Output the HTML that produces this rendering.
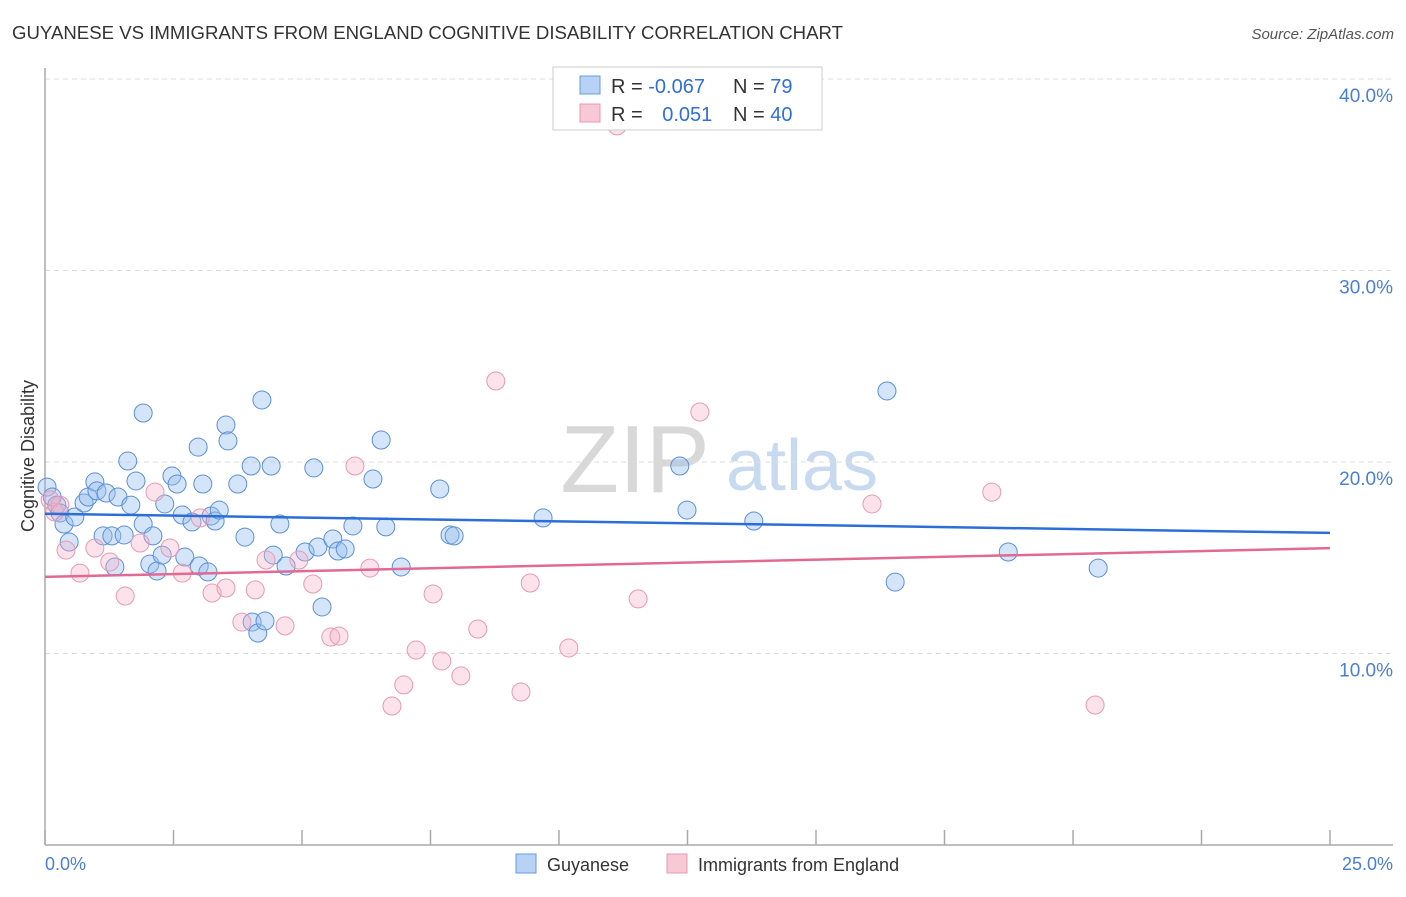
<!DOCTYPE html>
<html><head><meta charset="utf-8"><style>
body{margin:0;background:#fff;font-family:"Liberation Sans",sans-serif}
svg text{font-family:"Liberation Sans",sans-serif}
</style></head><body>
<svg id="chart" width="1406" height="892" xmlns="http://www.w3.org/2000/svg">
<text x="12" y="39" font-size="18" fill="#333" textLength="831" lengthAdjust="spacingAndGlyphs">GUYANESE VS IMMIGRANTS FROM ENGLAND COGNITIVE DISABILITY CORRELATION CHART</text>
<text x="1394" y="39" font-size="15" fill="#555" font-style="italic" text-anchor="end">Source: ZipAtlas.com</text>
<g>
<text x="635" y="492" font-size="96" fill="#d8d8d8" font-family="Liberation Serif" text-anchor="middle">ZIP</text>
<text x="802" y="490" font-size="72" fill="#c8daf0" text-anchor="middle">atlas</text>
</g>
<g id="grid"></g>
<g id="axes"></g>
<g id="pts"></g>
<g id="trends"></g>
<text x="34" y="456" font-size="18" fill="#333" text-anchor="middle" transform="rotate(-90 34 456)">Cognitive Disability</text>
<text x="45" y="870" font-size="18" fill="#4a7fd6">0.0%</text>
<text x="1393" y="870" font-size="18" fill="#4a7fd6" text-anchor="end">25.0%</text>
<g>
<rect x="553" y="67" width="269" height="63" fill="#fff" stroke="#ccc"/>
<rect x="580" y="76" width="20" height="18" fill="#b8d2f5" stroke="#6a9ae0"/>
<rect x="580" y="104" width="20" height="18" fill="#f9c8d6" stroke="#e899b3"/>
<text x="611" y="93" font-size="20" fill="#333">R = <tspan fill="#2f6fd6">-0.067</tspan></text>
<text x="733" y="93" font-size="20" fill="#333">N = <tspan fill="#2f6fd6">79</tspan></text>
<text x="611" y="121" font-size="20" fill="#333">R = <tspan fill="#2f6fd6" dx="14">0.051</tspan></text>
<text x="733" y="121" font-size="20" fill="#333">N = <tspan fill="#2f6fd6">40</tspan></text>
</g>
<g>
<rect x="516" y="854" width="20" height="19" fill="#b8d2f5" stroke="#6a9ae0"/>
<text x="547" y="871" font-size="18" fill="#333">Guyanese</text>
<rect x="667" y="854" width="20" height="19" fill="#f9c8d6" stroke="#e899b3"/>
<text x="698" y="871" font-size="18" fill="#333">Immigrants from England</text>
</g>
</svg>
<script>
const yTicks=[10,20,30,40];
const yTickLabels=["10.0%","20.0%","30.0%","40.0%"];
const xTicks=[0,2.5,5,7.5,10,12.5,15,17.5,20,22.5,25];
const blueX=[0.04,0.14,0.23,0.29,0.37,0.47,0.58,0.76,0.84,0.97,1.01,1.19,1.36,1.42,1.13,1.30,1.54,1.61,1.67,1.77,1.91,1.91,2.04,2.10,2.18,2.28,2.33,2.47,2.57,2.67,2.72,2.86,2.98,3.00,3.07,3.17,3.23,3.31,3.39,3.52,3.56,3.75,3.89,4.01,4.03,4.14,4.22,4.28,4.40,4.44,4.57,4.69,5.06,5.23,5.31,5.39,5.60,5.70,5.84,5.99,6.38,6.54,6.63,6.93,7.68,7.88,7.96,9.69,12.35,12.49,13.79,16.38,16.54,18.74,20.49];
const blueY=[18.69,18.17,17.75,17.34,16.76,15.82,17.13,17.86,18.17,18.96,18.49,18.38,14.52,18.17,16.14,16.14,16.19,20.05,17.75,19.01,22.56,16.76,14.67,16.14,14.31,15.14,17.81,19.27,18.85,17.23,15.04,16.87,20.78,14.57,18.85,14.26,17.18,16.92,17.49,21.93,21.10,18.85,16.08,19.79,11.64,11.07,23.24,11.70,19.79,15.14,16.76,14.57,15.30,19.69,15.56,12.43,15.98,15.35,15.46,16.66,19.11,21.15,16.61,14.52,18.59,16.19,16.14,17.08,19.79,17.49,16.92,23.71,13.73,15.30,14.46];
const pinkX=[0.10,0.19,0.29,0.41,0.68,0.97,1.26,1.56,1.85,2.14,2.43,2.67,3.02,3.25,3.52,3.83,4.09,4.30,4.67,4.94,5.21,5.56,5.72,6.03,6.32,6.75,6.98,7.22,7.55,7.72,8.09,8.42,8.77,9.26,9.44,10.19,11.13,11.54,12.74,16.09,18.42,20.43];
const pinkY=[18.02,17.39,17.75,15.40,14.20,15.51,14.78,13.00,15.77,18.43,15.51,14.20,17.08,13.16,13.42,11.64,13.32,14.88,11.44,14.88,13.63,10.86,10.91,19.79,14.46,7.26,8.36,10.18,13.11,9.61,8.83,11.28,24.23,7.99,13.68,10.29,37.55,12.85,22.61,17.81,18.43,7.31];
const blueTrend=[17.3,16.3];
const pinkTrend=[14.0,15.5];
const NS="http://www.w3.org/2000/svg";
const X0=45,X1=1330,Y0=845,PY=19.15;
function sx(v){return X0+v/25*(X1-X0);}
function sy(v){return Y0-v*PY;}
function mk(tag,attrs,parent){const e=document.createElementNS(NS,tag);for(const k in attrs)e.setAttribute(k,attrs[k]);document.getElementById(parent).appendChild(e);return e;}
yTicks.forEach((t,i)=>{
 const l=mk('line',{x1:45,x2:1393,y1:sy(t),y2:sy(t),stroke:'#ddd','stroke-dasharray':'5,4'},'grid');
 
 
 const tx=mk('text',{x:1393,y:sy(t)+23,'font-size':19,fill:'#4a7fd6','text-anchor':'end'},'grid');
 tx.textContent=yTickLabels[i];
 
 
});
const ya=mk('line',{x1:45,x2:45,y1:68,y2:845,stroke:'#aaa','stroke-width':1.5},'axes');


const xa=mk('line',{x1:45,x2:1393,y1:845,y2:845,stroke:'#aaa','stroke-width':1.5},'axes');


xTicks.forEach(t=>{
 const l=mk('line',{x1:sx(t),x2:sx(t),y1:830,y2:845,stroke:'#aaa','stroke-width':1.5},'axes');
 
 
});
blueX.forEach((v,i)=>{
 const c=mk('circle',{cx:sx(v),cy:sy(blueY[i]),r:9,fill:'rgba(150,190,240,0.4)',stroke:'#5b8fd8','stroke-width':1},'pts');
 
 
});
pinkX.forEach((v,i)=>{
 const c=mk('circle',{cx:sx(v),cy:sy(pinkY[i]),r:9,fill:'rgba(245,175,198,0.35)',stroke:'#e899b3','stroke-width':1},'pts');
 
 
});
const bt=mk('line',{x1:sx(0),x2:sx(25),y1:sy(blueTrend[0]),y2:sy(blueTrend[1]),stroke:'#2b6fd6','stroke-width':2.5},'trends');


const pt=mk('line',{x1:sx(0),x2:sx(25),y1:sy(pinkTrend[0]),y2:sy(pinkTrend[1]),stroke:'#e06a93','stroke-width':2.5},'trends');


</script>
</body></html>
